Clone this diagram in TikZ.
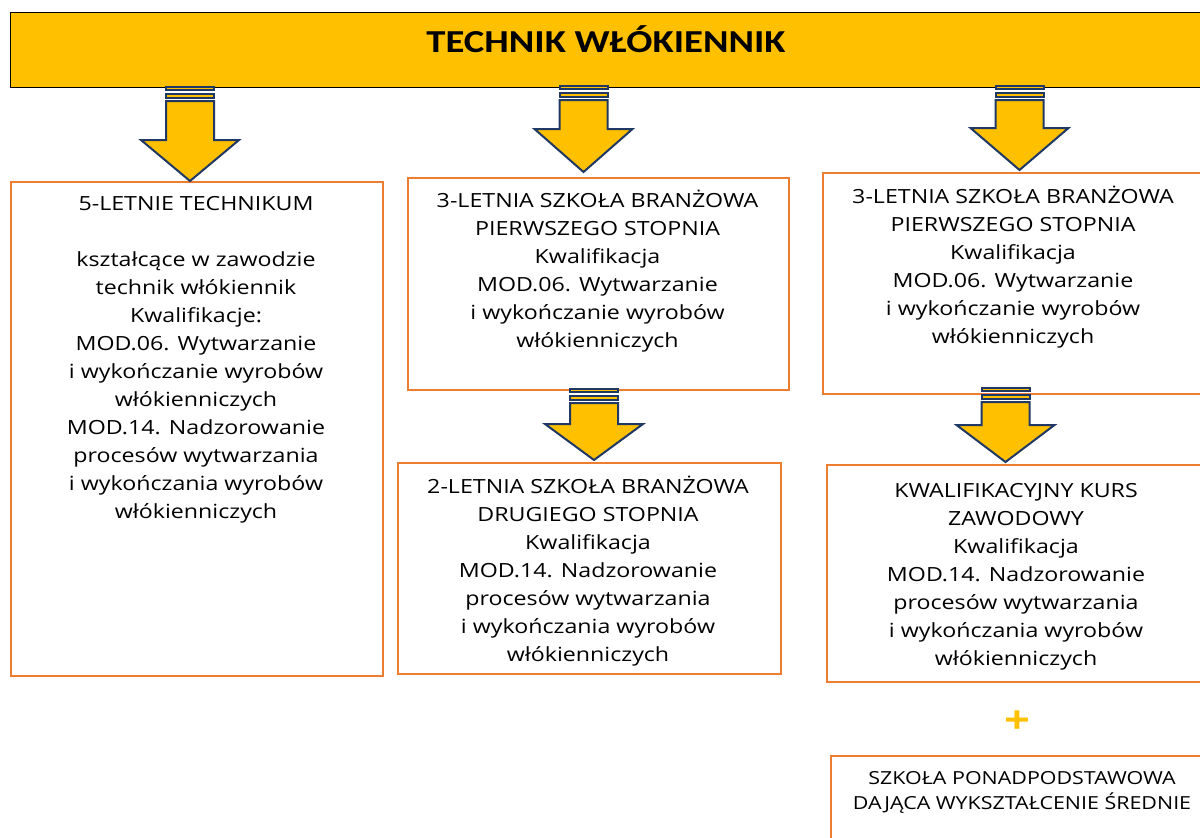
\documentclass[tikz,border=0pt]{standalone}
\usepackage{fontspec}
\setmainfont{Open Sans}[FakeStretch=1.19]
\newfontfamily\titlefont{Carlito}[FakeStretch=1.21]
\usetikzlibrary{calc}
\definecolor{gold}{HTML}{FFC000}
\definecolor{navy}{HTML}{1F3864}
\definecolor{boxorange}{HTML}{ED7D31}
\newcommand\stripedarrow[4]{%
  \draw[arrowline] (#1-24,#2+1) rectangle (#1+24,#2+4);
  \draw[arrowline] (#1-24,#2+8) rectangle (#1+24,#2+12);
  \draw[arrowline] (#1-24,#2+15) -- (#1+24,#2+15) -- (#1+24,#3) -- (#1+49,#3)
     -- (#1,#4) -- (#1-49,#3) -- (#1-24,#3) -- cycle;
}
\begin{document}
\begin{tikzpicture}[x=1bp,y=-1bp,
  titlebar/.style={draw=black, line width=1.2bp, fill=gold, inner sep=0pt, anchor=north west},
  boxframe/.style={draw=boxorange, line width=2bp, fill=white, inner sep=0pt, anchor=north west},
  boxtext/.style={anchor=north, align=center, inner sep=0pt, text=black,
     font=\fontsize{19.5bp}{28bp}\selectfont},
  smalltext/.style={anchor=north, align=center, inner sep=0pt, text=black,
     font=\fontsize{18bp}{25bp}\selectfont},
  arrowline/.style={draw=navy, line width=2bp, fill=gold, line join=miter},
]
\clip (0,0) rectangle (1200,838);
\fill[white] (0,0) rectangle (1200,838);

% title bar
\node[titlebar, minimum width=1200bp, minimum height=75bp] (bar) at (10,12) {};
\node[anchor=base, inner sep=0pt, font=\titlefont\bfseries\fontsize{32bp}{36bp}\selectfont] (title) at (606,52) {TECHNIK WŁÓKIENNIK};

% boxes
\node[boxframe, minimum width=372bp, minimum height=494bp] (b1) at (10,181) {};
\node[boxframe, minimum width=381bp, minimum height=212bp] (b2) at (407,177) {};
\node[boxframe, minimum width=390bp, minimum height=221bp] (b3) at (822,172) {};
\node[boxframe, minimum width=383bp, minimum height=211bp] (b4) at (397,462) {};
\node[boxframe, minimum width=390bp, minimum height=217bp] (b5) at (826,464) {};
\node[boxframe, minimum width=390bp, minimum height=120bp] (b6) at (830,755) {};

\node[boxtext] (t1) at (196,190.4) {\strut 5-LETNIE TECHNIKUM\\[28bp]
kształcące w zawodzie\\technik włókiennik\\Kwalifikacje:\\MOD.06. Wytwarzanie\\i wykończanie wyrobów\\włókienniczych\\MOD.14. Nadzorowanie\\procesów wytwarzania\\i wykończania wyrobów\\włókienniczych};
\node[boxtext] (t2) at (597.5,187.4) {\strut 3-LETNIA SZKOŁA BRANŻOWA\\PIERWSZEGO STOPNIA\\Kwalifikacja\\MOD.06. Wytwarzanie\\i wykończanie wyrobów\\włókienniczych};
\node[boxtext] (t3) at (1013,183.4) {\strut 3-LETNIA SZKOŁA BRANŻOWA\\PIERWSZEGO STOPNIA\\Kwalifikacja\\MOD.06. Wytwarzanie\\i wykończanie wyrobów\\włókienniczych};
\node[boxtext] (t4) at (588,473.4) {\strut 2-LETNIA SZKOŁA BRANŻOWA\\DRUGIEGO STOPNIA\\Kwalifikacja\\MOD.14. Nadzorowanie\\procesów wytwarzania\\i wykończania wyrobów\\włókienniczych};
\node[boxtext] (t5) at (1016,477.4) {\strut KWALIFIKACYJNY KURS\\ZAWODOWY\\Kwalifikacja\\MOD.14. Nadzorowanie\\procesów wytwarzania\\i wykończania wyrobów\\włókienniczych};
\node[smalltext] (t6) at (1022,766.5) {\strut SZKOŁA PONADPODSTAWOWA\\DAJĄCA WYKSZTAŁCENIE ŚREDNIE};

\node[inner sep=0pt, text=gold, font=\bfseries\fontsize{38bp}{40bp}\selectfont] (plus) at (1017,722) {+};

% striped block arrows
\stripedarrow{190}{86}{140}{181}
\stripedarrow{583.5}{85}{129}{172}
\stripedarrow{1019.5}{85}{128}{170}
\stripedarrow{594}{388}{424}{460}
\stripedarrow{1005.5}{387}{425}{462}
\end{tikzpicture}
\end{document}
